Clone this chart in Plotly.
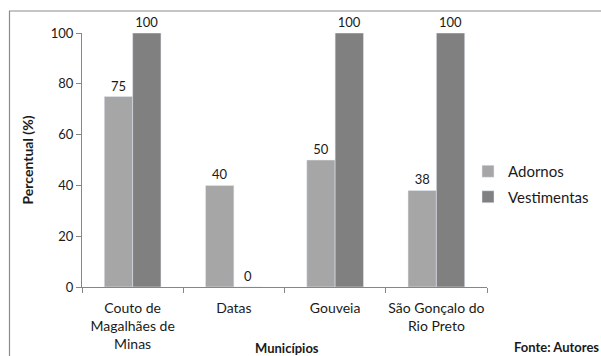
import plotly.graph_objects as go

# Municípios and shares (%) for each category of item
municipios = ["Couto de<br>Magalhães de<br>Minas", "Datas", "Gouveia", "São Gonçalo do<br>Rio Preto"]
adornos = [75, 40, 50, 38]
vestimentas = [100, 0, 100, 100]
y_ticks = [0, 20, 40, 60, 80, 100]

FONT = "Lato, 'Open Sans', sans-serif"
TXT = "#1a1a1a"
AXIS = "#868686"

# plot area in pixels: x 82..487, y 33..287
PL, PR, PT, PB = 82, 487, 33, 287
W, H = 601, 356


def px_x(p):
    return (p - PL) / (PR - PL)


def px_y(p):
    return (PB - p) / (PB - PT)


fig = go.Figure()
fig.add_trace(go.Bar(
    name="Adornos", x=municipios, y=adornos, marker_color="#a6a6a6",
    text=adornos, texttemplate="%{text}", textposition="outside",
    constraintext="none",
    textfont=dict(size=13, color=TXT, family=FONT), cliponaxis=False,
    legendgroup="a",
))
fig.add_trace(go.Bar(
    name="Vestimentas", x=municipios, y=vestimentas, marker_color="#808080",
    text=vestimentas, texttemplate="%{text}", textposition="outside",
    constraintext="none",
    textfont=dict(size=13, color=TXT, family=FONT), cliponaxis=False,
    legendgroup="v",
))

fig.update_layout(
    width=W, height=H,
    margin=dict(l=PL, r=W - PR, t=PT, b=H - PB, autoexpand=False),
    paper_bgcolor="white", plot_bgcolor="white",
    font=dict(family=FONT, size=13, color=TXT),
    barmode="group", bargap=0.44, bargroupgap=0,
    showlegend=True,
    legend=dict(
        x=px_x(468), xanchor="left", y=px_y(155), yanchor="top",
        font=dict(size=15, color=TXT, family=FONT),
        tracegroupgap=3, itemwidth=30, bgcolor="rgba(0,0,0,0)",
    ),
    xaxis=dict(
        showline=True, linecolor=AXIS, linewidth=1, tickangle=0, automargin=False,
        ticks="outside", tickson="boundaries", ticklen=5, tickcolor=AXIS,
        tickfont=dict(size=14, color=TXT), showgrid=False, ticklabelstandoff=8,
    ),
    yaxis=dict(
        range=[0, 100], tickvals=y_ticks, showline=True, linecolor=AXIS, linewidth=1,
        ticks="outside", ticklen=5, tickcolor=AXIS, showgrid=False, zeroline=False,
        tickfont=dict(size=13, color=TXT), automargin=False,
        title=dict(text="<b>Percentual (%)</b>", font=dict(size=14, color=TXT), standoff=13),
    ),
    shapes=[dict(
        type="rect", xref="paper", yref="paper",
        x0=px_x(9.5), x1=px_x(700), y0=px_y(400), y1=px_y(11),
        line=dict(color="#8c8c8c", width=1.2), fillcolor="rgba(0,0,0,0)", layer="below",
    )],
    annotations=[
        dict(text="<b>Municípios</b>", xref="paper", yref="paper",
             x=px_x(287), y=px_y(348), xanchor="center", yanchor="middle",
             showarrow=False, font=dict(size=13, color=TXT)),
        dict(text="<b>Fonte: Autores</b>", xref="paper", yref="paper",
             x=px_x(556), y=px_y(347), xanchor="center", yanchor="middle",
             showarrow=False, font=dict(size=13, color=TXT)),
    ],
)

fig.write_html("out.html")
